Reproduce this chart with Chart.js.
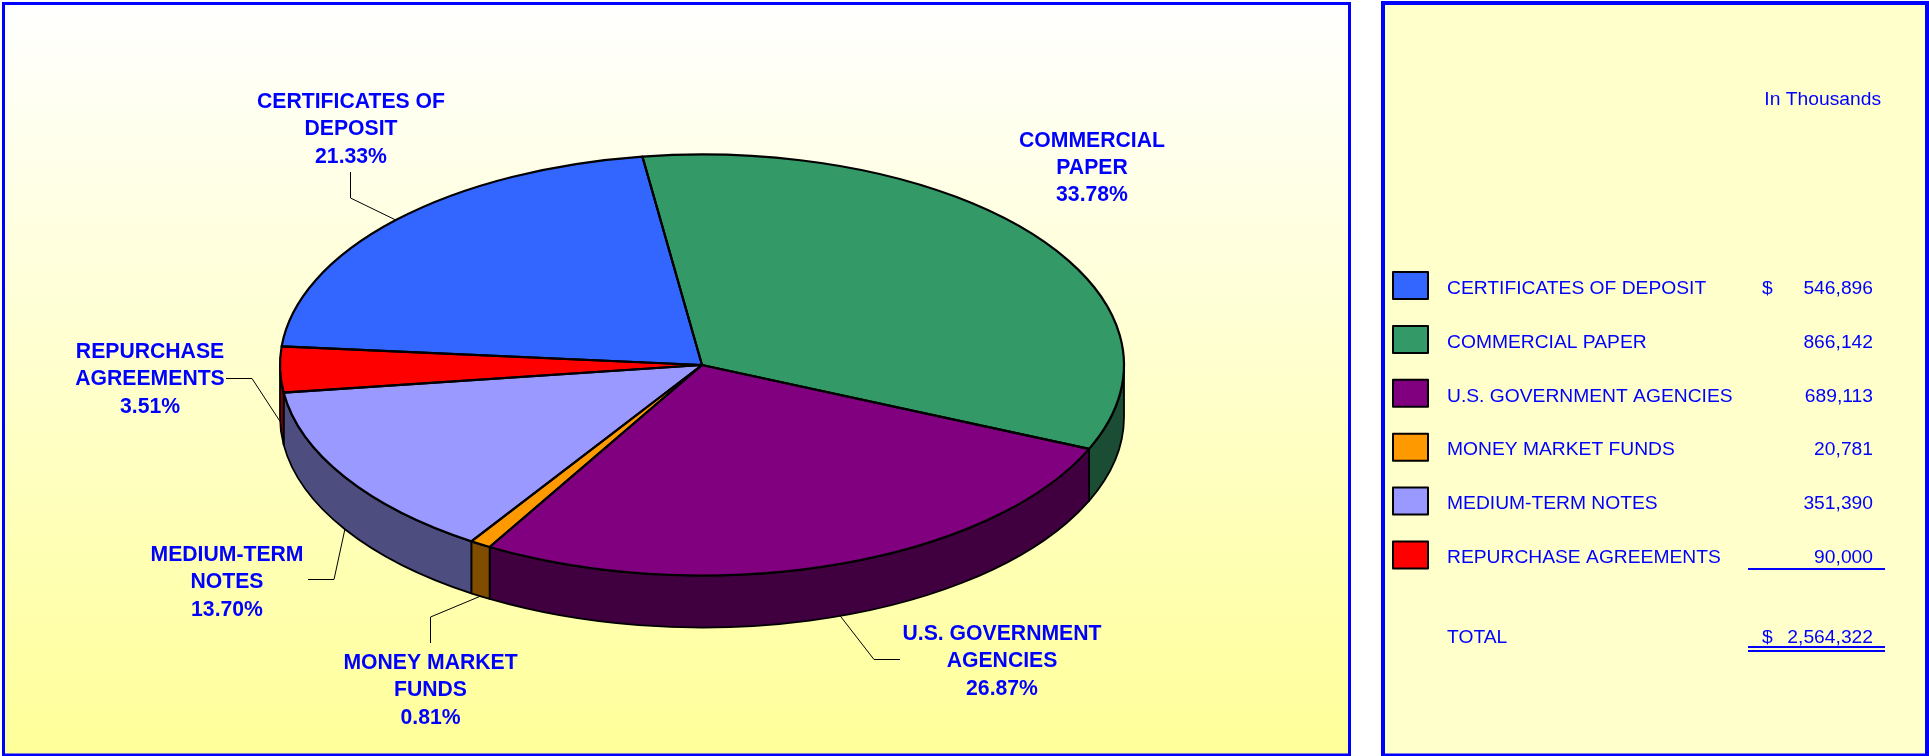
<!DOCTYPE html>
<html>
<head>
<meta charset="utf-8">
<style>
html,body{margin:0;padding:0;background:#fff;overflow:hidden}
canvas{display:block}
</style>
<script src="https://cdn.jsdelivr.net/npm/chart.js@4"></script>
</head>
<body>
<canvas id="c" width="1929" height="756"></canvas>
<script>
const categories = ['CERTIFICATES OF DEPOSIT','COMMERCIAL PAPER','U.S. GOVERNMENT AGENCIES','MONEY MARKET FUNDS','MEDIUM-TERM NOTES','REPURCHASE AGREEMENTS'];
const amounts = [546896,866142,689113,20781,351390,90000];
const topColors = ['#3366FF','#339966','#800080','#FF9900','#9999FF','#FF0000'];
const sideColors = ['#1A3380','#1A4D33','#400040','#804D00','#4D4D80','#800000'];
const labelLines = [['CERTIFICATES OF','DEPOSIT'],['COMMERCIAL','PAPER'],['U.S. GOVERNMENT','AGENCIES'],['MONEY MARKET','FUNDS'],['MEDIUM-TERM','NOTES'],['REPURCHASE','AGREEMENTS']];
const unitsNote = 'In Thousands';
const totalLabel = 'TOTAL';

// Layout only
const CX=702, CY=365, R=422, SQUASH=0.499, DEPTH=52;
const labelPos = [[351,108],[1092,146.5],[1002,640],[430.5,669],[227,561],[150,358]];
const leaders = [
  {a:[350.5,172],b:[350.5,198],f:0.5},
  null,
  {a:[900,659.5],b:[874,659.5],f:0.49},
  {a:[430.5,643],b:[430.5,617],f:0.5},
  {a:[308,579.5],b:[334,579.5],f:0.5},
  {a:[226,378.5],b:[252,378.5],f:0.5}
];
const total = amounts.reduce((a,b)=>a+b,0);
const fmt = n => n.toLocaleString('en-US');
const ink = '#0000FF';

function arcPath(ctx,a0,a1,dy){ ctx.ellipse(CX,CY+dy,R,R*SQUASH,0,a0,a1); }

const pseudo3d = {
  id:'pseudo3d',
  beforeDraw(chart){
    const ctx=chart.ctx;
    ctx.save();
    const g=ctx.createLinearGradient(0,3,0,755);
    g.addColorStop(0,'#FFFFFF'); g.addColorStop(1,'#FFFF99');
    ctx.fillStyle=g; ctx.fillRect(3,3,1346,752);
    ctx.strokeStyle=ink; ctx.lineWidth=3; ctx.strokeRect(3.5,3.5,1346,751.5);
    ctx.fillStyle='#FFFFCC'; ctx.fillRect(1383,3,544,752);
    ctx.lineWidth=4; ctx.strokeRect(1383,3,544,752.5);
    ctx.restore();
  },
  beforeDatasetsDraw(chart){
    const ctx=chart.ctx, arcs=chart.getDatasetMeta(0).data, T=Math.PI*2;
    ctx.save();
    ctx.lineJoin='round'; ctx.strokeStyle='#000'; ctx.lineWidth=1.8;
    arcs.forEach((el,i)=>{
      // the front of the disc is the canvas angle range 0..PI
      for(const k of [-1,0,1]){
        const a0=Math.max(el.startAngle+k*T,0), a1=Math.min(el.endAngle+k*T,Math.PI);
        if(a1<=a0) continue;
        ctx.beginPath();
        arcPath(ctx,a0,a1,0);
        ctx.lineTo(CX+R*Math.cos(a1),CY+R*SQUASH*Math.sin(a1)+DEPTH);
        ctx.ellipse(CX,CY+DEPTH,R,R*SQUASH,0,a1,a0,true);
        ctx.closePath();
        ctx.fillStyle=sideColors[i]; ctx.fill(); ctx.stroke();
      }
    });
    ctx.restore();
    ctx.save();
    ctx.translate(CX,CY); ctx.scale(1,SQUASH); ctx.translate(-CX,-CY);
  },
  afterDatasetsDraw(chart){
    const ctx=chart.ctx, arcs=chart.getDatasetMeta(0).data;
    ctx.restore();
    ctx.save();
    // slice outlines
    ctx.lineJoin='round'; ctx.strokeStyle='#000'; ctx.lineWidth=2.2;
    arcs.forEach(el=>{
      ctx.beginPath(); ctx.moveTo(CX,CY);
      arcPath(ctx,el.startAngle,el.endAngle,0);
      ctx.closePath(); ctx.stroke();
    });
    // leaders
    ctx.lineWidth=1; ctx.strokeStyle='#000';
    arcs.forEach((el,i)=>{
      const L=leaders[i];
      if(!L) return;
      const m=el.startAngle+(el.endAngle-el.startAngle)*L.f, sy=Math.sin(m);
      const ex=CX+R*Math.cos(m), ey=CY+R*SQUASH*sy+(sy>-0.02?DEPTH:0);
      ctx.beginPath();
      ctx.moveTo(L.a[0],L.a[1]);
      ctx.lineTo(L.b[0],L.b[1]);
      ctx.lineTo(ex,ey);
      ctx.stroke();
    });
    // slice labels
    ctx.fillStyle=ink; ctx.textAlign='center'; ctx.textBaseline='alphabetic';
    ctx.font='bold 21.2px "Liberation Sans",Arial,sans-serif';
    amounts.forEach((v,i)=>{
      const lines=[...labelLines[i],(v/total*100).toFixed(2)+'%'];
      lines.forEach((t,k)=>ctx.fillText(t,labelPos[i][0],labelPos[i][1]+k*27.3));
    });
    // side table
    ctx.font='19.25px "Liberation Sans",Arial,sans-serif';
    ctx.textAlign='right';
    ctx.fillText(unitsNote,1881,105);
    categories.forEach((name,i)=>{
      const top=272+i*53.9, base=293.7+i*53.9;
      ctx.fillStyle=topColors[i]; ctx.fillRect(1393,top,35,27);
      ctx.strokeStyle='#000'; ctx.lineWidth=2; ctx.strokeRect(1393,top,35,27);
      ctx.fillStyle=ink;
      ctx.textAlign='left'; ctx.fillText(name,1447,base);
      ctx.textAlign='right'; ctx.fillText(fmt(amounts[i]),1873,base);
    });
    ctx.textAlign='left';
    ctx.fillText('$',1762,293.7);
    ctx.fillText(totalLabel,1447,643);
    ctx.fillText('$',1762,643);
    ctx.textAlign='right';
    ctx.fillText(fmt(total),1873,643);
    ctx.fillStyle=ink;
    ctx.fillRect(1748,568,137,2);
    ctx.fillRect(1748,646,137,2);
    ctx.fillRect(1748,650,137,2);
    ctx.restore();
  }
};

new Chart(document.getElementById('c'),{
  type:'pie',
  data:{labels:categories,datasets:[{data:amounts,backgroundColor:topColors,borderWidth:0,clip:false}]},
  plugins:[pseudo3d],
  options:{
    responsive:false,animation:false,devicePixelRatio:1,events:[],
    rotation:-84.9,radius:R,
    layout:{padding:{left:0,right:1929-2*CX,top:0,bottom:756-2*CY}},
    plugins:{legend:{display:false},tooltip:{enabled:false},title:{display:false}}
  }
});
</script>
</body>
</html>
